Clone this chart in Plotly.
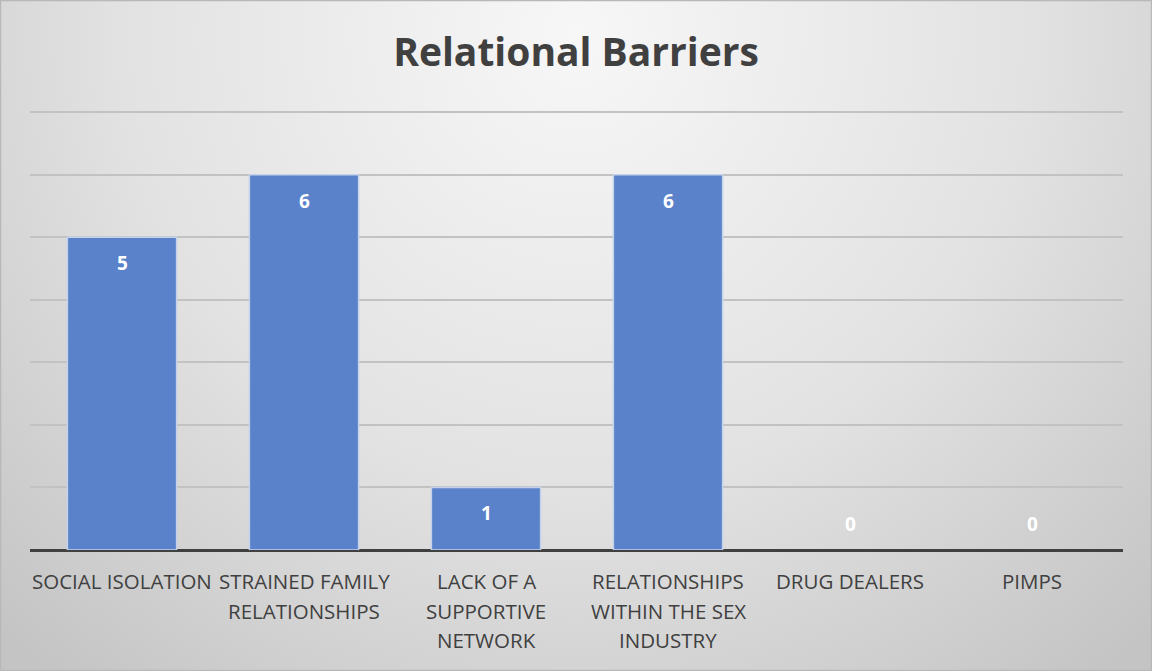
import base64
import plotly.graph_objects as go

# Chart data
categories = [
    "SOCIAL ISOLATION",
    "STRAINED FAMILY<br>RELATIONSHIPS",
    "LACK OF A<br>SUPPORTIVE<br>NETWORK",
    "RELATIONSHIPS<br>WITHIN THE SEX<br>INDUSTRY",
    "DRUG DEALERS",
    "PIMPS",
]
counts = [5, 6, 1, 6, 0, 0]
title_text = "Relational Barriers"

W, H = 1152, 671
y_max = 7.05
margin = dict(l=30, r=29, t=109, b=121)
plot_w = W - margin["l"] - margin["r"]
plot_h = H - margin["t"] - margin["b"]

# Soft radial gradient used as the chart backdrop
svg = f"""<svg xmlns='http://www.w3.org/2000/svg' width='{W}' height='{H}' viewBox='0 0 {W} {H}' preserveAspectRatio='none'>
<defs><radialGradient id='g' cx='{W*0.5}' cy='{H*0.05}' r='{W*0.72}' gradientUnits='userSpaceOnUse'>
<stop offset='0' stop-color='#f7f7f7'/><stop offset='0.55' stop-color='#e2e2e2'/><stop offset='1' stop-color='#c4c4c4'/>
</radialGradient></defs>
<rect width='{W}' height='{H}' fill='url(#g)'/>
<rect x='0.5' y='0.5' width='{W-1}' height='{H-1}' fill='none' stroke='#b8b8b8' stroke-width='1.5'/>
</svg>"""
bg_src = "data:image/svg+xml;base64," + base64.b64encode(svg.encode()).decode()

fig = go.Figure()
fig.add_trace(go.Bar(
    x=categories,
    y=counts,
    width=0.6,
    marker=dict(
        color="#5a82ca",
        line=dict(color="#c5d2ea", width=[1.5 if v > 0 else 0 for v in counts]),
    ),
    hoverinfo="y",
))

label_font = dict(family="Open Sans, sans-serif", size=19, color="#ffffff")
tick_font = dict(family="Open Sans, sans-serif", size=20.5, color="#404040")

for cat, v in zip(categories, counts):
    # Value label: inside the top of each bar, above the axis for empty bars
    fig.add_annotation(
        x=cat, y=v, xref="x", yref="y",
        text=f"<b>{v}</b>", showarrow=False,
        yshift=-26 if v > 0 else 26,
        font=label_font,
    )
    # Category label, one line at a time for wider line spacing
    for i, line in enumerate(cat.split("<br>")):
        fig.add_annotation(
            x=cat, y=0, xref="x", yref="y",
            text=line, showarrow=False,
            yanchor="middle", yshift=-(31 + i * 29.5),
            font=tick_font,
        )

fig.add_layout_image(dict(
    source=bg_src, xref="paper", yref="paper",
    x=-margin["l"] / plot_w, y=1 + margin["t"] / plot_h,
    sizex=W / plot_w, sizey=H / plot_h,
    xanchor="left", yanchor="top", sizing="stretch", layer="below",
))

fig.update_layout(
    width=W, height=H,
    margin=margin,
    paper_bgcolor="rgba(0,0,0,0)",
    plot_bgcolor="rgba(0,0,0,0)",
    showlegend=False,
    bargap=0.4,
    title=dict(
        text=f"<b>{title_text}</b>",
        x=0.5, xanchor="center", y=1 - 52 / H, yanchor="middle",
        font=dict(family="Open Sans, sans-serif", size=39, color="#404040"),
    ),
    xaxis=dict(
        showgrid=False, zeroline=False, showline=False,
        showticklabels=False, ticks="",
    ),
    yaxis=dict(
        range=[0, y_max], dtick=1,
        showgrid=True, gridcolor="#c2c2c2", gridwidth=1.5,
        showticklabels=False, ticks="",
        zeroline=True, zerolinecolor="#404040", zerolinewidth=3,
        showline=False, fixedrange=True,
    ),
)

fig.write_html("out.html")
